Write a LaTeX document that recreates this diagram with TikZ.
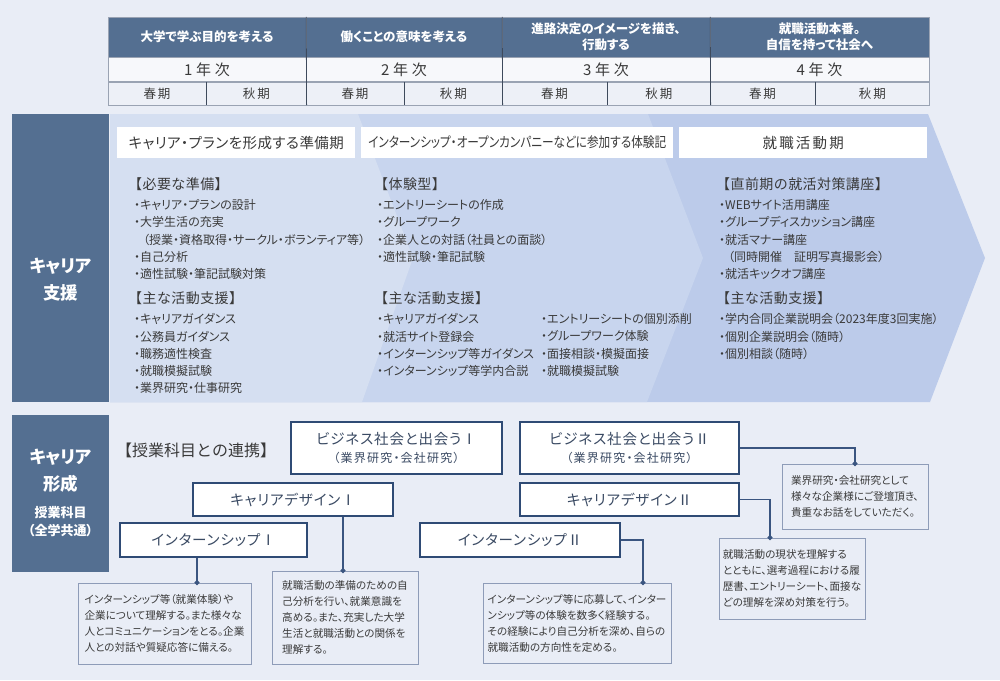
\documentclass[tikz,border=0pt]{standalone}
\usepackage{fontspec}
\usepackage{graphicx}
\setmainfont{Noto Sans CJK JP}[RawFeature=+palt]
\usetikzlibrary{arrows.meta}
\definecolor{bg}{HTML}{E9EDF6}
\definecolor{hdr}{HTML}{546F91}
\definecolor{grid}{HTML}{9AA3B3}
\definecolor{sepc}{HTML}{3E4A5C}
\definecolor{yearbg}{HTML}{F7F8FB}
\definecolor{termbg}{HTML}{EDF0F7}
\definecolor{chevA}{HTML}{D5DFF1}
\definecolor{chevB}{HTML}{C8D5EE}
\definecolor{chevC}{HTML}{BCCBEA}
\definecolor{txt}{HTML}{3A3A3A}
\definecolor{boxc}{HTML}{2F4B75}
\definecolor{boxtxt}{HTML}{3A4A63}
\definecolor{memoc}{HTML}{8E9CB8}
\definecolor{linkc}{HTML}{3A5580}
\begin{document}
\begin{tikzpicture}
[x=1pt,y=-1pt,
 every node/.style={inner sep=0pt,text=txt},
 head/.style={draw=grid,fill=hdr,minimum height=40pt,align=center,text=white,
   font=\bfseries\fontsize{12.5}{16}\selectfont},
 year/.style={draw=grid,fill=yearbg,minimum height=24pt,anchor=north,
   font=\fontsize{15}{18}\selectfont\addfontfeatures{LetterSpace=25}},
 term/.style={draw=grid,fill=termbg,minimum height=23pt,anchor=north west,
   font=\fontsize{12.5}{15}\selectfont\addfontfeatures{LetterSpace=15}},
 sep/.style={draw=sepc,line width=0.8pt},
 phase/.style={fill=white,minimum height=31pt,anchor=north west,
   font=\fontsize{14.5}{16}\selectfont\addfontfeatures{LetterSpace=3}},
 sec/.style={anchor=west,font=\fontsize{14}{16}\selectfont\addfontfeatures{RawFeature=-palt,LetterSpace=3}},
 items/.style={anchor=north west,align=left,font=\fontsize{12}{17.2}\selectfont},
 side/.style={fill=hdr,anchor=north west,minimum width=97pt},
 sidetext/.style={align=center,text=white,font=\bfseries\fontsize{17.5}{27}\selectfont},
 course/.style={draw=boxc,line width=1.6pt,fill=white,text=boxtxt,align=center,
   font=\fontsize{14.5}{18}\selectfont\addfontfeatures{LetterSpace=6}},
 memo/.style={draw=memoc,line width=0.8pt,align=left,font=\fontsize{10.6}{16}\selectfont},
 link/.style={draw=linkc,line width=1.1pt,-{Circle[length=5pt]},shorten >=-2.5pt}]
\useasboundingbox (0,0) rectangle (1000,680);
\fill[bg] (0,0) rectangle (1000,680);

\node[head,minimum width=198pt] (g1) at (207,37) {大学で学ぶ目的を考える};
\node[head,minimum width=196pt] (g2) at (404,37) {働くことの意味を考える};
\node[head,minimum width=208pt] (g3) at (606,37) {進路決定のイメージを描き、\\行動する};
\node[head,minimum width=219pt] (g4) at (819.5,37) {就職活動本番。\\自信を持って社会へ};
\node[year,minimum width=198pt] (y1) at (g1.south) {1年次};
\node[year,minimum width=196pt] (y2) at (g2.south) {2年次};
\node[year,minimum width=208pt] (y3) at (g3.south) {3年次};
\node[year,minimum width=219pt] (y4) at (g4.south) {4年次};
\node[term,minimum width=98pt] (t1) at (y1.south west) {春期};
\node[term,minimum width=100pt] (t2) at (t1.north east) {秋期};
\node[term,minimum width=98pt] (t3) at (y2.south west) {春期};
\node[term,minimum width=98pt] (t4) at (t3.north east) {秋期};
\node[term,minimum width=105pt] (t5) at (y3.south west) {春期};
\node[term,minimum width=103pt] (t6) at (t5.north east) {秋期};
\node[term,minimum width=105pt] (t7) at (y4.south west) {春期};
\node[term,minimum width=114pt] (t8) at (t7.north east) {秋期};
\draw[sep] (g1.north east) -- (t2.south east);
\draw[sep] (g2.north east) -- (t4.south east);
\draw[sep] (g3.north east) -- (t6.south east);
\draw[sep] (t1.north east) -- (t1.south east);
\draw[sep] (t3.north east) -- (t3.south east);
\draw[sep] (t5.north east) -- (t5.south east);
\draw[sep] (t7.north east) -- (t7.south east);

\fill[chevC] (110,114) -- (928,114) -- (985,258) -- (930,402) -- (110,402) -- cycle;
\fill[chevB] (110,114) -- (648,114) -- (703,258) -- (647,402) -- (110,402) -- cycle;
\fill[chevA] (110,114) -- (358,114) -- (413,258) -- (362,402) -- (110,402) -- cycle;

\node[side,minimum height=288pt] (s1) at (12,114) {};
\node[sidetext] (s1t) at (60.5,280) {キャリア\\支援};

\node[phase,minimum width=238pt] (p1) at (117,127) {キャリア・プランを形成する準備期};
\node[phase,minimum width=312pt,font=\fontsize{14}{16}\selectfont] (p2) at (361,127) {\resizebox{298pt}{\height}{インターンシップ・オープンカンパニーなどに参加する体験記}};
\node[phase,minimum width=248pt,font=\fontsize{14.5}{16}\selectfont\addfontfeatures{LetterSpace=15}] (p3) at (679,127) {就職活動期};

\node[sec] (a1) at (128,184) {【必要な準備】};
\node[items] (a2) at (134,199.5) {・キャリア・プランの設計\\・大学生活の充実\\\hspace*{9pt}（授業・資格取得・サークル・ボランティア等）\\・自己分析\\・適性試験・筆記試験対策};
\node[sec] (a3) at (128,298) {【主な活動支援】};
\node[items] (a4) at (134,313.5) {・キャリアガイダンス\\・公務員ガイダンス\\・職務適性検査\\・就職模擬試験\\・業界研究・仕事研究};

\node[sec] (b1) at (374,184) {【体験型】};
\node[items] (b2) at (377,199.5) {・エントリーシートの作成\\・グループワーク\\・企業人との対話（社員との面談）\\・適性試験・筆記試験};
\node[sec] (b3) at (374,298) {【主な活動支援】};
\node[items] (b4) at (377,313.5) {・キャリアガイダンス\\・就活サイト登録会\\・インターンシップ等ガイダンス\\・インターンシップ等学内合説};
\node[items] (b5) at (541,313.5) {・エントリーシートの個別添削\\・グループワーク体験\\・面接相談・模擬面接\\・就職模擬試験};

\node[sec] (c1) at (716,184) {【直前期の就活対策講座】};
\node[items] (c2) at (719,199.5) {・WEBサイト活用講座\\・グループディスカッション講座\\・就活マナー講座\\\hspace*{9pt}（同時開催　証明写真撮影会）\\・就活キックオフ講座};
\node[sec] (c3) at (716,298) {【主な活動支援】};
\node[items] (c4) at (719,313.5) {・学内合同企業説明会（2023年度3回実施）\\・個別企業説明会（随時）\\・個別相談（随時）};

\node[side,minimum height=157pt] (s2) at (12,415) {};
\node[sidetext] (s2t) at (60.5,471) {キャリア\\形成};
\node[sidetext,font=\bfseries\fontsize{13}{18}\selectfont] (s2u) at (60.5,522) {授業科目\\（全学共通）};

\node[anchor=west,font=\fontsize{16}{18}\selectfont\addfontfeatures{RawFeature=-palt},text=txt] (r0) at (116,450) {【授業科目との連携】};
\node[course,minimum width=211pt,minimum height=52pt] (bs1) at (396.5,448) {ビジネス社会と出会うⅠ\\{\fontsize{12}{14}\selectfont\addfontfeatures{LetterSpace=10}（業界研究・会社研究）}};
\node[course,minimum width=219pt,minimum height=52pt] (bs2) at (629.5,448) {ビジネス社会と出会うⅡ\\{\fontsize{12}{14}\selectfont\addfontfeatures{LetterSpace=10}（業界研究・会社研究）}};
\node[course,minimum width=200pt,minimum height=33pt] (cd1) at (293,499.5) {キャリアデザインⅠ};
\node[course,minimum width=219pt,minimum height=33pt] (cd2) at (629.5,499.5) {キャリアデザインⅡ};
\node[course,minimum width=187pt,minimum height=34pt] (is1) at (213.5,540) {インターンシップⅠ};
\node[course,minimum width=200pt,minimum height=34pt] (is2) at (520,540) {インターンシップⅡ};

\node[memo,minimum width=173pt,minimum height=81pt] (n1) at (164.5,623.5) {インターンシップ等（就業体験）や\\企業について理解する。また様々な\\人とコミュニケーションをとる。企業\\人との対話や質疑応答に備える。};
\node[memo,minimum width=146pt,minimum height=93pt] (n2) at (345,617.5) {就職活動の準備のための自\\己分析を行い、就業意識を\\高める。また、充実した大学\\生活と就職活動との関係を\\理解する。};
\node[memo,minimum width=188pt,minimum height=80pt] (n3) at (577,623) {インターンシップ等に応募して、インター\\ンシップ等の体験を数多く経験する。\\その経験により自己分析を深め、自らの\\就職活動の方向性を定める。};
\node[memo,minimum width=146pt,minimum height=65pt] (n4) at (855,496.5) {業界研究・会社研究として\\様々な企業様にご登壇頂き、\\貴重なお話をしていただく。};
\node[memo,minimum width=146pt,minimum height=81pt] (n5) at (792,578.5) {就職活動の現状を理解する\\とともに、選考過程における履\\歴書、エントリーシート、面接な\\どの理解を深め対策を行う。};

\coordinate (d1) at ([xshift=32.5pt]n1.north);
\coordinate (d2) at ([xshift=-2pt]n2.north);
\coordinate (d3) at ([xshift=66pt]n3.north);
\coordinate (d5) at ([xshift=-22pt]n5.north);
\draw[link] (is1.south -| d1) -- (d1);
\draw[link] (cd1.south -| d2) -- (d2);
\draw[link] (is2.east) -| (d3);
\draw[link] (bs2.east) -| (n4.north);
\draw[link] (cd2.east) -| (d5);
\end{tikzpicture}
\end{document}
